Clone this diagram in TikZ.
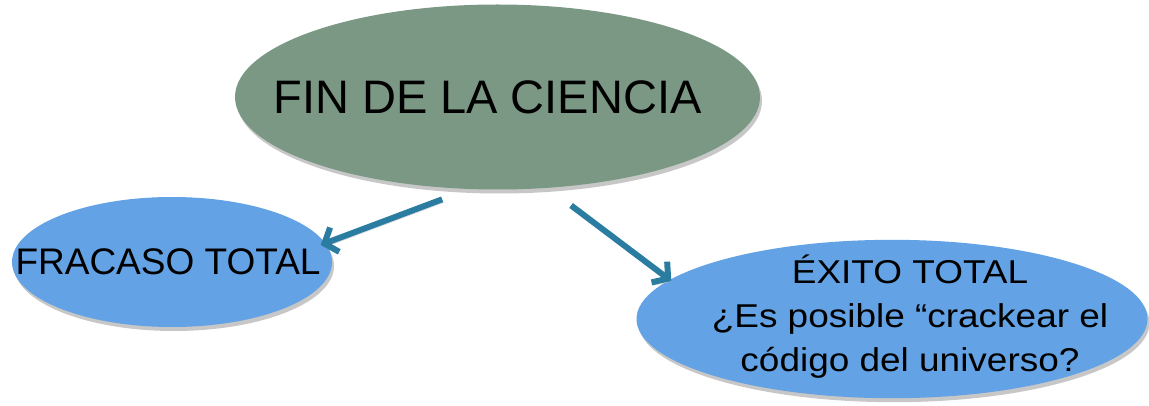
\documentclass[tikz,border=0pt]{standalone}
\usepackage{fontspec}
\setmainfont{Liberation Sans}
\newfontfamily\widefont[FakeStretch=1.12]{Liberation Sans}
\usepackage{tikz}
\usetikzlibrary{shapes.geometric}
\usetikzlibrary{arrows.meta}
\usetikzlibrary{shadows}
\definecolor{cienciagreen}{HTML}{7A9884}
\definecolor{bubbleblue}{HTML}{63A2E4}
\definecolor{linkteal}{HTML}{2A7DA0}
\tikzset{%
  every bubble/.style={
    ellipse,
    inner ysep=0pt,
    drop shadow={shadow xshift=2pt, shadow yshift=-4pt, fill=black!22, opacity=1}
  },
  link/.style={
    draw=linkteal,
    line width=6pt,
    -{Straight Barb[length=11pt, width=26pt]},
    preaction={draw=black!20, transform canvas={xshift=2pt, yshift=-3pt}}
  },
}

\begin{document}
\begin{tikzpicture}[x=1pt, y=-1pt]
\useasboundingbox (0,0) rectangle (1149,406);
    % the three bubbles
    \node[every bubble, fill=cienciagreen, inner xsep=-39pt, minimum width=525pt, minimum height=185pt,
          font=\fontsize{47}{56}\selectfont] (fin) at (497.5,97) {FIN DE LA CIENCIA\hspace*{20pt}};
    \node[every bubble, fill=bubbleblue, inner xsep=-45pt, minimum width=320pt, minimum height=130pt,
          font=\fontsize{37}{44}\selectfont] (fracaso) at (172,262) {FRACASO TOTAL\hspace*{8pt}};
    \node[every bubble, fill=bubbleblue, inner xsep=-36pt, inner ysep=-10pt, minimum width=511pt, minimum height=158pt,
          font=\widefont\fontsize{33}{44}\selectfont] (exito) at (892,319)
          {\begin{tabular}{@{\hspace{36pt}}c@{}}
             ÉXITO TOTAL\\ ¿Es posible “crackear el\\ código del universo?
           \end{tabular}};

   \draw[link, shorten <=29pt, shorten >=-5pt] (fin.253) -- (fracaso.7);
   \draw[link, shorten <=29pt, shorten >=-2pt] (fin.299) -- (exito.170);
\end{tikzpicture}
\end{document}
